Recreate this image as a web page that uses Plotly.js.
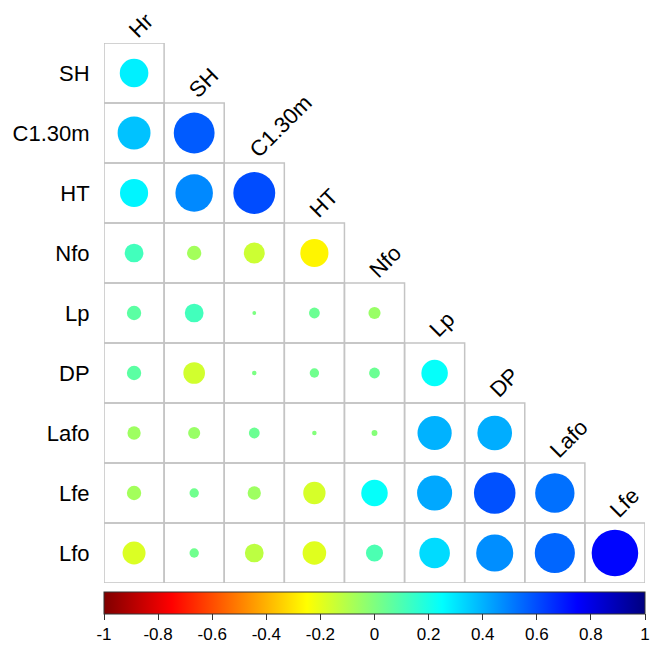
<!DOCTYPE html>
<html>
<head>
<meta charset="utf-8">
<script src="https://cdn.plot.ly/plotly-3.0.1.min.js"></script>
<style>html,body{margin:0;padding:0;background:#fff;}#chart{width:651px;height:652px;}</style>
</head>
<body>
<div id="chart"></div>
<script>
// Variable names (columns = first 9, rows = last 9)
const colNames = ["Hr", "SH", "C1.30m", "HT", "Nfo", "Lp", "DP", "Lafo", "Lfe"];
const rowNames = ["SH", "C1.30m", "HT", "Nfo", "Lp", "DP", "Lafo", "Lfe", "Lfo"];

// Lower-triangle correlation values, one array per row (columns Hr, SH, ...)
const rowSH    = [0.28];
const rowC130m = [0.37, 0.57];
const rowHT    = [0.27, 0.48, 0.60];
const rowNfo   = [0.12, -0.07, -0.15, -0.27];
const rowLp    = [0.07, 0.12, 0.005, 0.04, -0.05];
const rowDP    = [0.07, -0.16, 0.007, 0.03, 0.04, 0.24];
const rowLafo  = [-0.06, -0.05, 0.04, -0.007, -0.012, 0.40, 0.41];
const rowLfe   = [-0.07, 0.03, -0.06, -0.17, 0.24, 0.42, 0.59, 0.53];
const rowLfo   = [-0.18, 0.03, -0.12, -0.19, 0.10, 0.32, 0.47, 0.55, 0.74];

const rows = [rowSH, rowC130m, rowHT, rowNfo, rowLp, rowDP, rowLafo, rowLfe, rowLfo];

const cbTickVals = [-1, -0.8, -0.6, -0.4, -0.2, 0, 0.2, 0.4, 0.6, 0.8, 1];
const cbTickText = ["-1", "-0.8", "-0.6", "-0.4", "-0.2", "0", "0.2", "0.4", "0.6", "0.8", "1"];

const jet = [[0, '#7F0000'], [0.125, '#FF0000'], [0.25, '#FF7F00'], [0.375, '#FFFF00'],
             [0.5, '#7FFF7F'], [0.625, '#00FFFF'], [0.75, '#007FFF'], [0.875, '#0000FF'], [1, '#00007F']];

const W = 651, H = 652;
const mL = 104, mR = 6, mT = 43, mB = 66;
const cellPx = (W - mL - mR) / colNames.length;

const xs = [], ys = [], vals = [], sizes = [], texts = [];
const shapes = [];
rows.forEach((arr, i) => {
  arr.forEach((v, j) => {
    xs.push(colNames[j]);
    ys.push(rowNames[i]);
    vals.push(v);
    sizes.push(0.9 * Math.sqrt(Math.abs(v)) * cellPx);
    texts.push(v.toFixed(2));
    shapes.push({type: 'rect', xref: 'x', yref: 'y', x0: j - 0.5, x1: j + 0.5, y0: i - 0.5, y1: i + 0.5,
                 line: {color: '#c4c4c4', width: 1.5}, layer: 'below'});
  });
});

const annotations = colNames.map((name, j) => ({
  xref: 'x', yref: 'y', x: j, y: j - 0.5, text: name, showarrow: false,
  textangle: -45, xanchor: 'left', yanchor: 'bottom', xshift: -13, yshift: -2,
  font: {family: 'Liberation Sans, Arial, sans-serif', size: 22, color: '#000'}
}));

const trace = {
  type: 'scatter', mode: 'markers', x: xs, y: ys, text: texts,
  hovertemplate: '%{y} / %{x}: %{text}<extra></extra>',
  marker: {
    size: sizes, sizemode: 'diameter', color: vals, colorscale: jet, cmin: -1, cmax: 1,
    opacity: 1, line: {width: 0},
    colorbar: {
      orientation: 'h', x: 0, xanchor: 'left', xref: 'paper', len: 1, lenmode: 'fraction',
      y: -0.017, yanchor: 'top', yref: 'paper', thickness: 22, thicknessmode: 'pixels',
      xpad: 0, ypad: 0, outlinewidth: 1, outlinecolor: '#333', borderwidth: 0,
      tickmode: 'array', tickvals: cbTickVals, ticktext: cbTickText,
      ticks: 'outside', ticklen: 6, tickwidth: 1, tickcolor: '#333',
      ticklabeloverflow: 'allow',
      tickfont: {family: 'Liberation Sans, Arial, sans-serif', size: 17, color: '#000'}
    }
  },
  showlegend: false
};

const layout = {
  width: W, height: H,
  margin: {l: mL, r: mR, t: mT, b: mB, pad: 0},
  paper_bgcolor: '#fff', plot_bgcolor: '#fff',
  xaxis: {type: 'category', categoryorder: 'array', categoryarray: colNames, range: [-0.5, 8.5],
          showticklabels: false, showgrid: false, zeroline: false, showline: false, ticks: '', fixedrange: true},
  yaxis: {type: 'category', categoryorder: 'array', categoryarray: rowNames, range: [8.5, -0.5],
          showgrid: false, zeroline: false, showline: false, ticks: 'outside', ticklen: 9, tickcolor: 'rgba(0,0,0,0)',
          tickfont: {family: 'Liberation Sans, Arial, sans-serif', size: 22, color: '#000'}, fixedrange: true},
  shapes: shapes,
  annotations: annotations
};

Plotly.newPlot('chart', [trace], layout, {displayModeBar: false, staticPlot: true});
</script>
</body>
</html>
